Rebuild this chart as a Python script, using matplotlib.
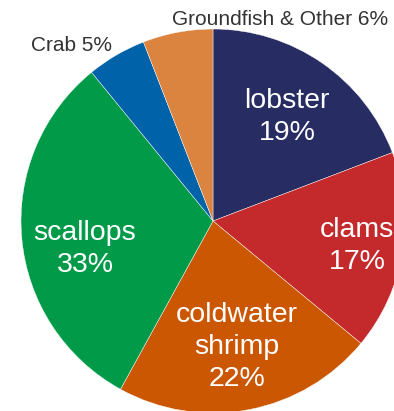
import matplotlib
matplotlib.use("Agg")
import matplotlib.pyplot as plt

plt.rcParams['font.family'] = ['Liberation Sans', 'DejaVu Sans']

# Data (shares, labels as printed)
species = ["lobster", "clams", "coldwater shrimp", "scallops", "Crab", "Groundfish & Other"]
shares = [19.2, 16.8, 22.0, 31.1, 5.0, 5.9]
label_pct = ["19%", "17%", "22%", "33%", "5%", "6%"]
colors = ["#272C62", "#C4292B", "#CB5703", "#009A49", "#0062A9", "#DA8440"]

W, H = 394, 411
fig = plt.figure(figsize=(W / 100, H / 100), dpi=100)
ax = fig.add_axes([0, 0, 1, 1])

cx, cy, r = 213, H - 221, 192
ax.pie(shares, colors=colors, startangle=90, counterclock=False,
       center=(cx, cy), radius=r, frame=True,
       wedgeprops=dict(edgecolor="white", linewidth=0.3))
ax.set_xlim(0, W)
ax.set_ylim(0, H)
ax.set_aspect("equal")
ax.axis("off")

# label text: inside labels in white, small slices labelled outside
inside = [
    ("lobster\n19%", 287, 117),
    ("clams\n17%", 357, 246),
    ("coldwater\nshrimp\n22%", 237, 347),
    ("scallops\n33%", 85, 249),
]
for txt, x, y in inside:
    ax.text(x, H - y, txt, color="white", fontsize=20.5, ha="center", va="center",
            linespacing=1.3)

outside = [
    (species[4] + " " + label_pct[4], 72, 45),
    (species[5] + " " + label_pct[5], 280, 19),
]
for txt, x, y in outside:
    ax.text(x, H - y, txt, color="#333333", fontsize=15, ha="center", va="center")

fig.savefig("out.png", dpi=100)
